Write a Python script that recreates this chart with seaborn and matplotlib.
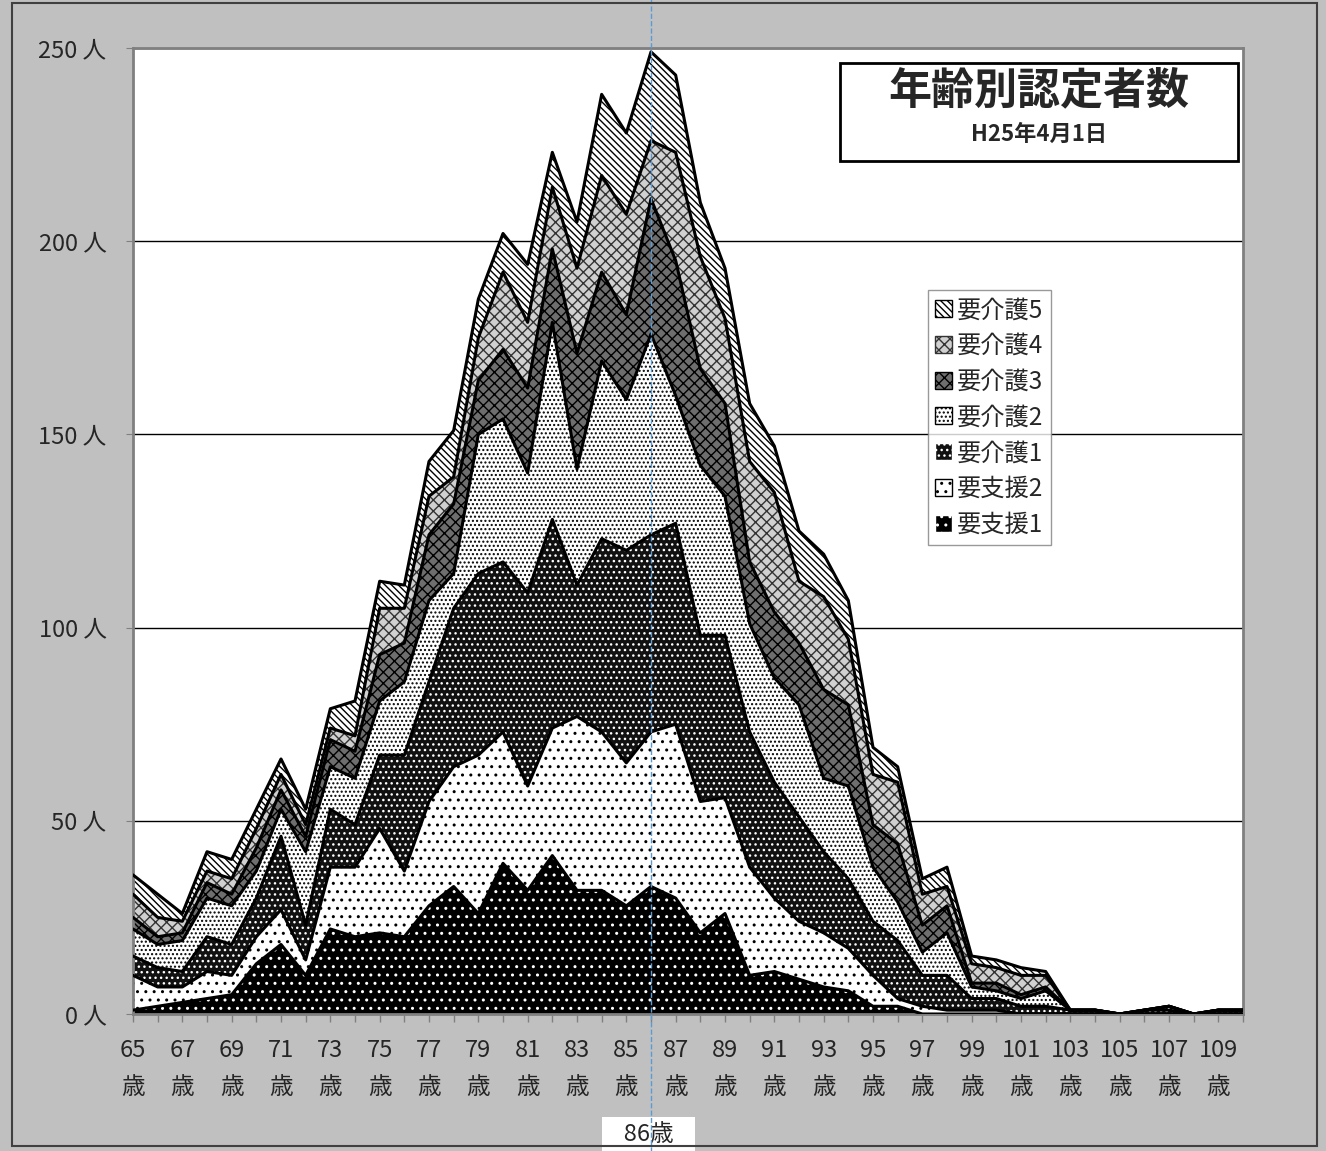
import numpy as np
import pandas as pd
import seaborn as sns
import matplotlib
matplotlib.use("Agg")
from matplotlib import pyplot as plt
from matplotlib.patches import Patch, Rectangle

ages = list(range(65, 111))

# 人数 (年齢別・区分別)
shien1 = [1, 2, 3, 4, 5, 13, 18, 10, 22, 20,
          21, 20, 28, 33, 26, 39, 32, 41, 32, 32,
          28, 33, 30, 21, 26, 10, 11, 9, 7, 6,
          2, 2, 0, 0, 0, 0, 0, 0, 0, 0,
          0, 0, 0, 0, 0, 0]
shien2 = [9, 5, 4, 7, 5, 7, 9, 4, 16, 18,
          27, 17, 27, 31, 41, 34, 27, 33, 45, 41,
          37, 40, 45, 34, 30, 28, 19, 15, 14, 11,
          8, 2, 2, 1, 1, 1, 0, 0, 0, 0,
          0, 0, 0, 0, 0, 0]
kaigo1 = [5, 5, 4, 9, 8, 10, 19, 9, 15, 11,
          19, 30, 31, 41, 47, 44, 50, 54, 34, 50,
          55, 51, 52, 43, 42, 35, 30, 27, 21, 18,
          14, 15, 8, 9, 3, 3, 2, 2, 1, 1,
          0, 1, 1, 0, 1, 1]
kaigo2 = [7, 6, 8, 10, 10, 7, 7, 19, 11, 12,
          14, 19, 21, 9, 36, 37, 31, 51, 30, 46,
          39, 52, 33, 44, 36, 28, 27, 29, 19, 24,
          14, 10, 6, 11, 3, 2, 2, 4, 0, 0,
          0, 0, 1, 0, 0, 0]
kaigo3 = [3, 2, 2, 4, 3, 6, 5, 4, 7, 7,
          12, 10, 17, 18, 14, 18, 22, 19, 30, 23,
          22, 35, 35, 25, 24, 16, 17, 16, 23, 21,
          11, 15, 7, 7, 1, 2, 1, 1, 0, 0,
          0, 0, 0, 0, 0, 0]
kaigo4 = [6, 5, 3, 3, 4, 5, 4, 3, 3, 4,
          12, 9, 10, 7, 11, 20, 17, 16, 22, 25,
          26, 15, 28, 29, 22, 26, 31, 16, 24, 17,
          13, 16, 8, 5, 5, 4, 5, 3, 0, 0,
          0, 0, 0, 0, 0, 0]
kaigo5 = [5, 6, 2, 5, 5, 5, 4, 4, 5, 9,
          7, 6, 9, 12, 10, 10, 15, 9, 12, 21,
          21, 23, 20, 14, 13, 15, 12, 13, 11, 10,
          7, 4, 4, 5, 2, 2, 2, 1, 0, 0,
          0, 0, 0, 0, 0, 0]

labels = ["要支援1", "要支援2", "要介護1", "要介護2", "要介護3", "要介護4", "要介護5"]
yticks = [0, 50, 100, 150, 200, 250]
xticks = list(range(65, 111, 2))
mark_age = 86

sns.set_style("white")
plt.rcParams["font.family"] = ["Noto Sans CJK JP", "DejaVu Sans"]
plt.rcParams["hatch.linewidth"] = 1.0

# face colour, hatch colour, hatch
styles = [
    ("black", "white", ".."),
    ("white", "black", ".."),
    ("#111111", "white", "..."),
    ("white", "black", "...."),
    ("#6e6e6e", "black", "xxx"),
    ("#d0d0d0", "#333333", "xxx"),
    ("white", "black", "\\\\\\\\\\"),
]

df = pd.DataFrame({"age": ages})
for lab, vals in zip(labels, [shien1, shien2, kaigo1, kaigo2, kaigo3, kaigo4, kaigo5]):
    df[lab] = vals
cum = df[labels].cumsum(axis=1)

fig = plt.figure(figsize=(13.26, 11.51), dpi=100, facecolor="#c0c0c0")
ax = fig.add_axes([133 / 1326, 1 - 1014 / 1151, 1110 / 1326, 966 / 1151])
ax.set_facecolor("white")

lower = np.zeros(len(ages))
for lab, (fc, hc, h) in zip(labels, styles):
    upper = cum[lab].values
    ax.fill_between(df["age"], lower, upper, facecolor=fc, edgecolor=hc,
                    hatch=h, linewidth=0, zorder=2)
    lower = upper
for lab in labels:
    sns.lineplot(x=df["age"], y=cum[lab], color="black", linewidth=2.2,
                 estimator=None, ax=ax, zorder=3)

ax.set_xlim(65, 110)
ax.set_ylim(0, 250)
ax.set_xlabel("")
ax.set_ylabel("")
ax.set_yticks(yticks)
ax.set_yticklabels([f"{v} 人" for v in yticks], fontsize=17)
ax.set_xticks(xticks)
ax.set_xticklabels([f"{a}\n歳" for a in xticks], fontsize=17, linespacing=1.75)
ax.set_xticks(ages, minor=True)
ax.tick_params(axis="x", which="both", direction="out", length=6, width=1,
               color="#808080", pad=12, bottom=True)
ax.tick_params(axis="y", direction="out", length=5, color="#808080", pad=14, left=True)
ax.grid(axis="y", color="black", linewidth=1, zorder=1)
ax.set_axisbelow(True)
for s in ax.spines.values():
    s.set_color("#808080")
    s.set_linewidth(2)

# 86歳 marker line
ax.plot([mark_age, mark_age], [-0.145, 1.06], transform=ax.get_xaxis_transform(),
        clip_on=False, color="#5b9bd5", linestyle="--", linewidth=1, zorder=5)
ax.text(mark_age - 0.1, -0.125, f"   {mark_age}歳   ", transform=ax.get_xaxis_transform(),
        ha="center", va="center", fontsize=17,
        bbox=dict(facecolor="white", edgecolor="none", boxstyle="square,pad=0.25"),
        zorder=4)

# title box
fig.patches.append(Rectangle((840 / 1326, 1 - 161 / 1151), 398 / 1326, 98 / 1151,
                             transform=fig.transFigure, facecolor="white",
                             edgecolor="black", linewidth=2, zorder=6))
fig.text(1039 / 1326, 1 - 90 / 1151, "年齢別認定者数", ha="center", va="center",
         fontsize=31, fontweight="bold", zorder=7)
fig.text(1039 / 1326, 1 - 134 / 1151, "H25年4月1日", ha="center", va="center",
         fontsize=16, fontweight="bold", zorder=7)

handles = [Patch(facecolor=fc, edgecolor=hc, hatch=h) for fc, hc, h in styles]
leg = ax.legend(handles[::-1], labels[::-1], loc="upper left",
                bbox_to_anchor=(928 / 1326, 1 - 290 / 1151),
                bbox_transform=fig.transFigure, fontsize=17.5, frameon=True,
                fancybox=False, edgecolor="#808080", handlelength=0.7,
                handleheight=0.7, handletextpad=0.2, labelspacing=0.4,
                borderpad=0.3, borderaxespad=0)
leg.get_frame().set_linewidth(1)
for p in leg.get_patches():
    p.set_linewidth(1)

fig.patches.append(Rectangle((12 / 1326, 1 - 1146 / 1151), 1305 / 1326, 1143 / 1151,
                             transform=fig.transFigure, fill=False,
                             edgecolor="#404040", linewidth=1.5))

fig.savefig("out.png", dpi=100, facecolor=fig.get_facecolor())
